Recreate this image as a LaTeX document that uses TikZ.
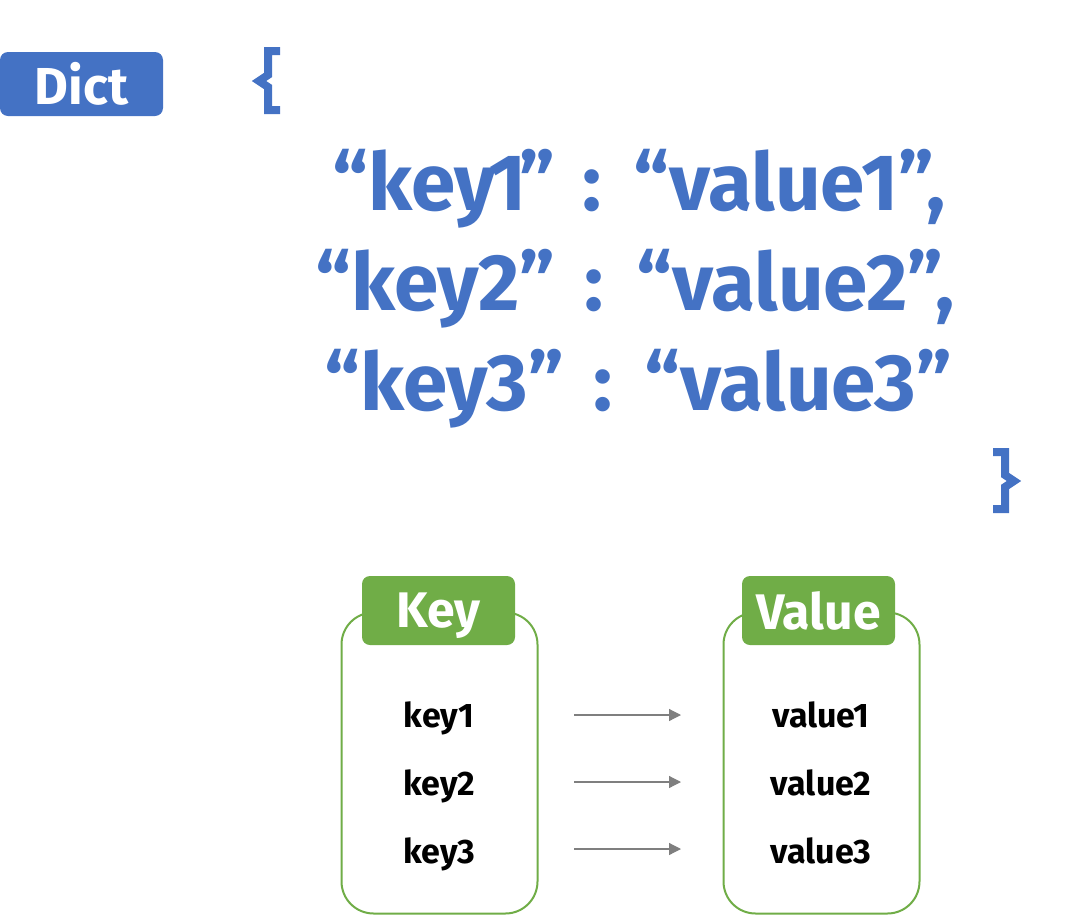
\documentclass[tikz,border=0pt]{standalone}
\usepackage{fontspec}
\setmainfont{Fira Sans}[Numbers=Proportional]
\usetikzlibrary{arrows.meta}
\definecolor{dictblue}{HTML}{4472C4}
\definecolor{boxgreen}{HTML}{70AD47}
\definecolor{arrgray}{HTML}{7F7F7F}
\tikzset{
  bigtxt/.style={inner sep=0pt, anchor=base west, text=dictblue, font=\fontsize{80}{80}\selectfont\bfseries},
  coltxt/.style={inner sep=0pt, anchor=base, text=dictblue, font=\fontsize{80}{80}\selectfont\bfseries},
  bracepath/.style={draw=dictblue, line width=8pt, miter limit=10},
  dictbox/.style={fill=dictblue, rounded corners=8pt, minimum width=163pt, minimum height=64pt, inner sep=0pt, text=white, font=\fontsize{52}{52}\selectfont\bfseries},
  listbox/.style={draw=boxgreen, line width=2pt, fill=white, rounded corners=32pt, minimum width=196pt, minimum height=301pt, inner sep=0pt},
  tabbox/.style={fill=boxgreen, rounded corners=8pt, minimum width=153pt, minimum height=69pt, inner sep=0pt, text=white, text depth=0pt, font=\fontsize{50}{50}\selectfont\bfseries},
  itemtxt/.style={inner sep=0pt, anchor=base, text=black, font=\fontsize{34}{34}\selectfont\bfseries},
  arr/.style={draw=arrgray, line width=1.2pt, -{Triangle[length=12pt,width=12pt]}},
}
\begin{document}
\begin{tikzpicture}[x=1pt,y=-1pt]
\useasboundingbox (0,0) rectangle (1072,916);
% Dict label
\node[dictbox] (dict) at (81.5,84) {Dict};
% braces
\draw[bracepath] (280,51) -- (268,51) -- (268,75) -- (259,81) -- (268,87) -- (268,110) -- (280,110);
\draw[bracepath] (993,452) -- (1005,452) -- (1005,475) -- (1014,481) -- (1005,487) -- (1005,509) -- (993,509);
% lines
\node[bigtxt] (k1) at (332,210) {“key\kern-7pt1\kern-7pt”};
\node[coltxt] (c1) at (592,210) {:};
\node[bigtxt] (v1) at (633,210) {“value1”,};
\node[bigtxt] (k2) at (315,310) {“key2”};
\node[coltxt] (c2) at (594,310) {:};
\node[bigtxt] (v2) at (636,310) {“value2”,};
\node[bigtxt] (k3) at (324,410) {“key3”};
\node[coltxt] (c3) at (603,410) {:};
\node[bigtxt] (v3) at (644,410) {“value3”};
% key box
\node[listbox] (kbox) at (439.5,763) {};
\node[tabbox] (ktab) at (438.5,610.5) {Key};
\node[listbox] (vbox) at (821.5,763) {};
\node[tabbox] (vtab) at (818.5,610.5) {Value};
% items
\node[itemtxt] (ka) at (439,727) {key1};
\node[itemtxt] (kb) at (439,795) {key2};
\node[itemtxt] (kc) at (439,863) {key3};
\node[itemtxt] (va) at (821,727) {value1};
\node[itemtxt] (vb) at (821,795) {value2};
\node[itemtxt] (vc) at (821,863) {value3};
% arrows
\coordinate (a1s) at (574,715); \coordinate (a1e) at (681,715);
\coordinate (a2s) at (574,782); \coordinate (a2e) at (681,782);
\coordinate (a3s) at (574,849); \coordinate (a3e) at (681,849);
\draw[arr] (a1s) -- (a1e);
\draw[arr] (a2s) -- (a2e);
\draw[arr] (a3s) -- (a3e);
\end{tikzpicture}
\end{document}
